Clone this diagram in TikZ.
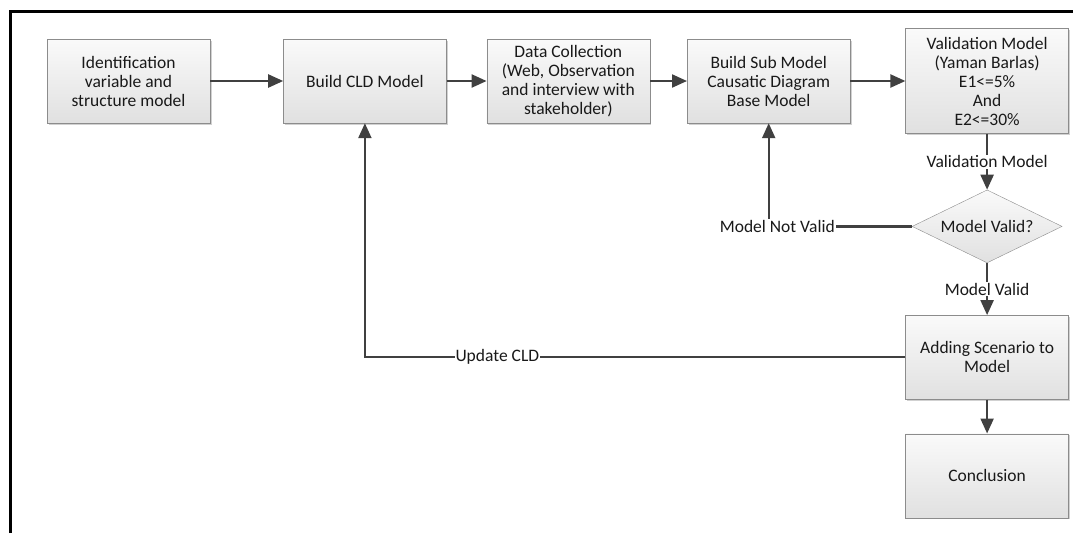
\documentclass[tikz,border=0pt]{standalone}
\usepackage{fontspec}
\setmainfont{Carlito}
\usetikzlibrary{shapes.geometric, arrows.meta, positioning, shadows}
\tikzset{
    block/.style={rectangle, draw=black!45, thin, top color=black!2, bottom color=black!12, align=center, minimum width=163pt, minimum height=84pt, inner sep=2pt, text=black!90, font=\fontsize{17.5}{19}\selectfont, drop shadow={shadow xshift=1.5pt, shadow yshift=-1.5pt, fill=black!30, opacity=.6}},
    decision/.style={diamond, draw=black!45, thin, top color=black!2, bottom color=black!12, aspect=2, inner sep=0pt, minimum width=150pt, minimum height=73pt, text=black!90, font=\fontsize{17.5}{19}\selectfont},
    arrow/.style={draw=black!75, line width=2.2pt, -{Triangle[length=15pt, width=13pt]}},
    link/.style={draw=black!75, line width=2.2pt},
    lbl/.style={fill=white, inner sep=1pt, text=black!90, font=\fontsize{17.5}{19}\selectfont}
}
\begin{document}
\begin{tikzpicture}[x=1pt, y=-1pt]
            \useasboundingbox (0,0) rectangle (1073,533);
            \draw[line width=3pt] (10.5,533) -- (10.5,11) -- (1073,11);

            \node[block] (ident) at (128.5,81) {Identification\\variable and\\structure model};
            \node[block, right=73pt of ident] (cld) {Build CLD Model};
            \node[block, right=40pt of cld] (datacol) {Data Collection\\(Web, Observation\\and interview with\\stakeholder)};
            \node[block, right=37pt of datacol] (submodel) {Build Sub Model\\Causatic Diagram\\Base Model};
            \node[block, right=55pt of submodel, minimum height=105pt] (valmodel) {Validation Model\\(Yaman Barlas)\\E1<=5\%\\And\\E2<=30\%};
            \node[decision, below=56pt of valmodel] (valid) {Model Valid?};
            \node[block, below=52pt of valid] (scenario) {Adding Scenario to\\Model};
            \node[block, below=34pt of scenario] (concl) {Conclusion};

            \path[arrow] (ident) -- (cld);
            \path[arrow] (cld) -- (datacol);
            \path[arrow] (datacol) -- (submodel);
            \path[arrow] (submodel) -- (valmodel);
            \path[arrow] (valmodel) -- node[lbl] {Validation Model} (valid);
            \path[arrow] (valid) -- node[lbl] {Model Valid} (scenario);
            \path[arrow] (scenario) -- (concl);
            \path[arrow] (valid.west) -- node[lbl, pos=0.94] {Model Not Valid} (valid.west -| submodel) -- (submodel);
            \path[arrow] (scenario.west) -- node[lbl, pos=0.755] {Update CLD} (scenario.west -| cld) -- (cld);
        \end{tikzpicture}
\end{document}
